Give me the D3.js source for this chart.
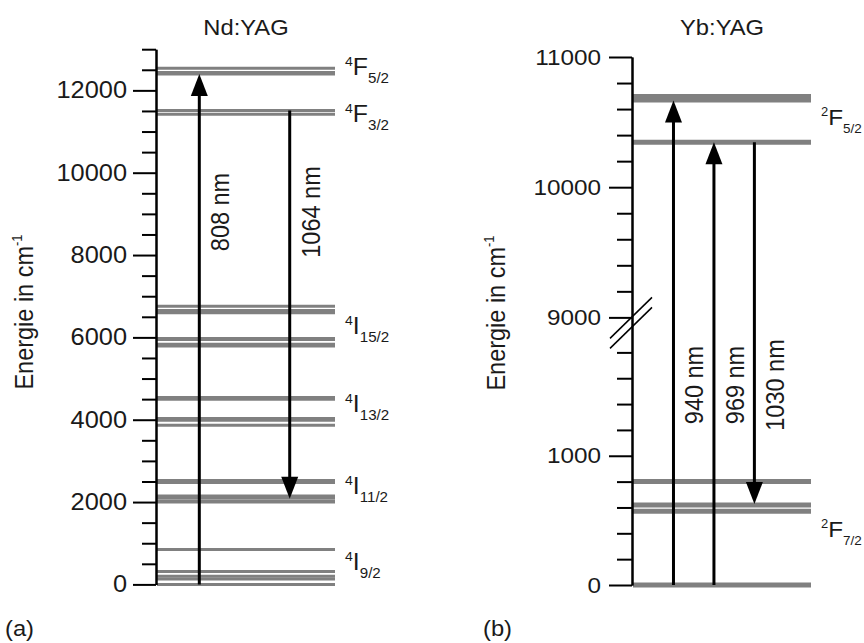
<!DOCTYPE html>
<html>
<head>
<meta charset="utf-8">
<script src="https://cdn.jsdelivr.net/npm/d3@7"></script>
<style>
    body { margin: 0; background: #fff; }
    svg { display: block; font-family: "Liberation Sans", Arial, sans-serif; }
</style>
</head>
<body>
<div id="chart"></div>
<script>
// ---- Nd:YAG (cm^-1)
const ndLevels = [0, 134, 197, 311, 848, 2000, 2030, 2110, 2145, 2475, 2525,
    3867, 3990, 4030, 4500, 4540, 5790, 5835, 5950, 5975, 6600, 6650, 6755,
    11420, 11510, 12400, 12432, 12536];
const ndTerms = [
    { mult: '4', letter: 'I', j: '9/2', at: 350 },
    { mult: '4', letter: 'I', j: '11/2', at: 2196 },
    { mult: '4', letter: 'I', j: '13/2', at: 4188 },
    { mult: '4', letter: 'I', j: '15/2', at: 6082 },
    { mult: '4', letter: 'F', j: '3/2', at: 11239 },
    { mult: '4', letter: 'F', j: '5/2', at: 12373 }
];
const ndTransitions = [
    { from: 0, to: 12400, label: '808 nm' },
    { from: 11510, to: 2080, label: '1064 nm' }
];
const ndMajorTicks = [0, 2000, 4000, 6000, 8000, 10000, 12000];
const ndMinorTicks = d3.range(500, 13001, 500).filter(v => v % 2000 !== 0);

// ---- Yb:YAG (cm^-1), axis broken between ~1950 and ~8880
const ybLevels = [0, 570, 620, 800, 10345, 10670, 10697];
const ybTerms = [
    { mult: '2', letter: 'F', j: '7/2', at: 374 },
    { mult: '2', letter: 'F', j: '5/2', at: 10477 }
];
const ybTransitions = [
    { from: 0, to: 10665, label: '940 nm' },
    { from: 0, to: 10345, label: '969 nm' },
    { from: 10345, to: 627, label: '1030 nm' }
];
const ybMajorTicks = [0, 1000, 9000, 10000, 11000];
const ybMinorTicks = d3.range(200, 2000, 200).concat(d3.range(9200, 11000, 200))
    .filter(v => v % 1000 !== 0);

const SX = 1.08; // the figure is slightly stretched horizontally

const svg = d3.select('#chart').append('svg')
    .attr('width', 864)
    .attr('height', 643);

class LevelDiagram {
    constructor(svg, cfg) {
        this.svg = svg;
        this.cfg = cfg;
        this.draw();
    }

    draw() {
        let vis = this;
        const c = vis.cfg;
        const y = c.y;

        vis.g = vis.svg.append('g');

        // energy levels
        vis.g.selectAll('line.level')
            .data(c.levels)
            .join('line')
            .attr('class', 'level')
            .attr('x1', c.x0)
            .attr('x2', c.x1)
            .attr('y1', d => y(d))
            .attr('y2', d => y(d))
            .attr('stroke', '#808080')
            .attr('stroke-width', c.levelWidth);

        // axis: minor ticks first, then major ticks with labels
        const minorAxis = d3.axisLeft(y).tickValues(c.minor)
            .tickSize(c.minorSize).tickSizeOuter(0).tickFormat('');
        const majorAxis = d3.axisLeft(y).tickValues(c.major)
            .tickSize(23).tickSizeOuter(0).tickFormat(d3.format('d'));

        const gMinor = vis.g.append('g')
            .attr('transform', `translate(${c.axisX},0)`)
            .call(minorAxis);
        const gMajor = vis.g.append('g')
            .attr('transform', `translate(${c.axisX},0)`)
            .call(majorAxis);

        [gMinor, gMajor].forEach(g => {
            g.attr('font-family', null);
            g.selectAll('path, line').attr('stroke', '#000').attr('stroke-width', 2);
        });
        gMajor.selectAll('text')
            .attr('x', 0)
            .attr('font-size', c.tickFont)
            .attr('fill', '#1a1a1a')
            .attr('transform', `translate(${-c.labelGap},0) scale(${SX},1)`);

        // axis title
        const yl = vis.g.append('text')
            .attr('transform', `translate(${c.yLabelX},${c.yLabelY}) scale(${SX},1) rotate(-90)`)
            .attr('text-anchor', 'middle')
            .attr('font-size', 23.5)
            .attr('fill', '#1a1a1a');
        yl.append('tspan').text('Energie in cm');
        yl.append('tspan').attr('font-size', 13).attr('dy', -10).text('-1');

        // panel title
        vis.g.append('text')
            .attr('transform', `translate(${(c.x0 + c.x1) / 2},35) scale(${SX},1)`)
            .attr('text-anchor', 'middle')
            .attr('font-size', 22)
            .attr('fill', '#1a1a1a')
            .text(c.title);

        // panel letter
        vis.g.append('text')
            .attr('transform', `translate(${c.letterX},636) scale(${SX},1)`)
            .attr('font-size', 22)
            .attr('fill', '#1a1a1a')
            .text(c.letter);

        // term symbols
        const terms = vis.g.selectAll('text.term')
            .data(c.terms)
            .join('text')
            .attr('class', 'term')
            .attr('transform', d => `translate(${c.x1 + c.termGap},${y(d.at)}) scale(${SX},1)`)
            .attr('fill', '#1a1a1a');
        terms.append('tspan').attr('font-size', c.termFont[0]).attr('dy', -9).text(d => d.mult);
        terms.append('tspan').attr('font-size', c.termFont[1]).attr('dy', 9).text(d => d.letter);
        terms.append('tspan').attr('font-size', c.termFont[2]).attr('dy', 8).text(d => d.j);

        // transitions
        const xs = d3.scalePoint()
            .domain(c.transitions.map(d => d.label))
            .range([c.x0, c.x1])
            .padding(c.pad)
            .align(c.align);

        const headLen = 22, headHalf = 8.5;
        c.transitions.forEach(t => {
            const xa = xs(t.label);
            const y1 = y(t.from), y2 = y(t.to);
            const dir = y2 > y1 ? 1 : -1;
            vis.g.append('line')
                .attr('x1', xa).attr('x2', xa)
                .attr('y1', y1).attr('y2', y2 - dir * (headLen - 2))
                .attr('stroke', '#000')
                .attr('stroke-width', 3);
            vis.g.append('path')
                .attr('d', `M${xa},${y2}L${xa - headHalf},${y2 - dir * headLen}L${xa + headHalf},${y2 - dir * headLen}Z`)
                .attr('fill', '#000');
            vis.g.append('text')
                .attr('transform', `translate(${xa + 30},${c.arrowLabelY}) scale(${SX},1) rotate(-90)`)
                .attr('text-anchor', 'middle')
                .attr('font-size', 23.5)
                .attr('fill', '#1a1a1a')
                .text(t.label);
        });

        if (c.breakAt !== undefined) {
            const yb = y(c.breakAt);
            [0, 10].forEach(off => {
                vis.g.append('line')
                    .attr('x1', c.axisX - 22).attr('y1', yb + 21 + off)
                    .attr('x2', c.axisX + 20).attr('y2', yb - 20 + off)
                    .attr('stroke', '#000')
                    .attr('stroke-width', 1.5);
            });
        }
    }
}

new LevelDiagram(svg, {
    title: 'Nd:YAG',
    letter: '(a)',
    letterX: 5,
    levels: ndLevels,
    terms: ndTerms,
    transitions: ndTransitions,
    major: ndMajorTicks,
    minor: ndMinorTicks,
    y: d3.scaleLinear().domain([0, 13000]).range([584.4, 49.2]),
    axisX: 156,
    x0: 157,
    x1: 335,
    levelWidth: 3,
    minorSize: 14,
    tickFont: 23.5,
    labelGap: 29,
    termGap: 10,
    termFont: [13, 23, 14],
    yLabelX: 33,
    yLabelY: 312,
    pad: 0.4845,
    align: 0.483,
    arrowLabelY: 212
});

new LevelDiagram(svg, {
    title: 'Yb:YAG',
    letter: '(b)',
    letterX: 483,
    levels: ybLevels,
    terms: ybTerms,
    transitions: ybTransitions,
    major: ybMajorTicks,
    minor: ybMinorTicks,
    y: d3.scaleLinear().domain([0, 1950, 8880, 11000]).range([585, 333, 333, 57]),
    axisX: 632,
    x0: 633,
    x1: 811,
    levelWidth: 5,
    minorSize: 15,
    tickFont: 22.5,
    labelGap: 31,
    termGap: 10,
    termFont: [12, 22.5, 12.5],
    yLabelX: 505,
    yLabelY: 313,
    pad: 1.2,
    align: 0.417,
    arrowLabelY: 385,
    breakAt: 9000
});
</script>
</body>
</html>
